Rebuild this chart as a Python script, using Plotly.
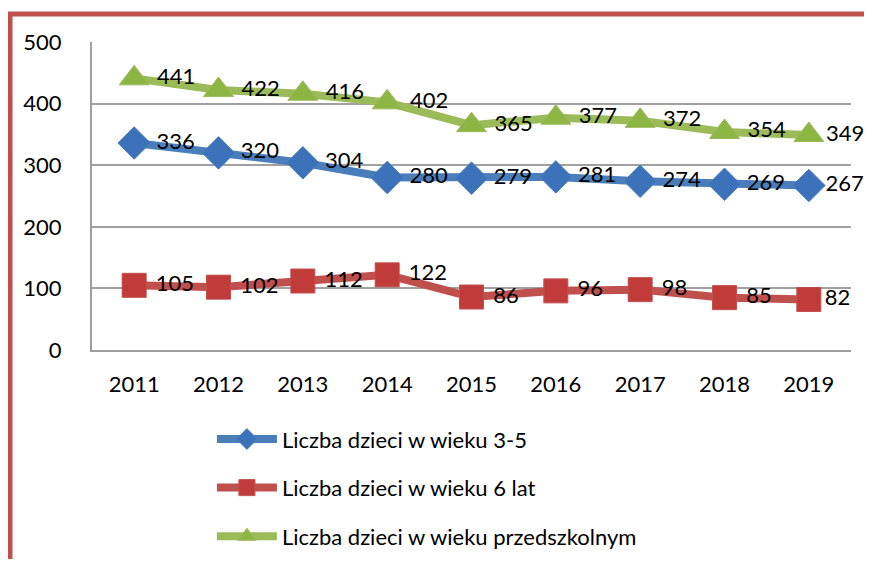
import plotly.graph_objects as go

years = ["2011", "2012", "2013", "2014", "2015", "2016", "2017", "2018", "2019"]
kids_3_5 = [336, 320, 304, 280, 279, 281, 274, 269, 267]
kids_6 = [105, 102, 112, 122, 86, 96, 98, 85, 82]
kids_pre = [441, 422, 416, 402, 365, 377, 372, 354, 349]

names = ["Liczba dzieci w wieku 3-5", "Liczba dzieci w wieku 6 lat", "Liczba dzieci w wieku przedszkolnym"]
series = [kids_3_5, kids_6, kids_pre]
line_colors = ["#4A7EBB", "#C0504D", "#9BBB59"]
marker_colors = ["#3C72BA", "#C23B3B", "#8CB544"]
symbols = ["diamond", "square", "triangle-up"]
sizes = [25, 24, 26]

FONT = "Lato"
FS = 22
fig = go.Figure()
for i in range(3):
    vals = series[i]
    labels = [(" " if k < len(vals) - 1 else "") + str(v) for k, v in enumerate(vals)]
    fig.add_trace(go.Scatter(
        x=years, y=vals, name=names[i], mode="lines+markers+text",
        text=labels, textposition="middle right",
        textfont=dict(family=FONT, size=FS, color="#000000"),
        line=dict(color=line_colors[i], width=8),
        marker=dict(symbol=symbols[i], size=sizes[i], color=marker_colors[i],
                    line=dict(width=1, color=line_colors[i])),
        cliponaxis=False, legendgroup=str(i),
    ))

# page body has an 8px margin; keep the figure inside the window
fig.update_layout(
    width=856, height=551,
    margin=dict(l=84, r=13, t=34, b=209, autoexpand=False),
    paper_bgcolor="white", plot_bgcolor="white",
    font=dict(family=FONT, size=FS, color="#000000"),
    showlegend=True,
    legend=dict(x=0.158, y=-0.2215, xanchor="left", yanchor="top", orientation="v",
                font=dict(family=FONT, size=FS, color="#000000"),
                tracegroupgap=17, itemwidth=60, bgcolor="rgba(0,0,0,0)"),
    xaxis=dict(type="category", range=[-0.5, 8.5], showgrid=False, zeroline=False,
               showline=True, linecolor="#9E9E9E", linewidth=2, ticks="", automargin=False,
               ticklabelstandoff=14, tickfont=dict(family=FONT, size=FS)),
    yaxis=dict(range=[0, 500], dtick=100, showgrid=True, gridcolor="#A0A0A0", gridwidth=2,
               zeroline=False, showline=True, linecolor="#9E9E9E", linewidth=2, ticks="",
               automargin=False, ticklabelstandoff=24, tickfont=dict(family=FONT, size=FS)),
    shapes=[dict(type="path", xref="paper", yref="paper",
                 path="M -0.108 -0.75 L -0.108 1.0909 L 1.06 1.0909",
                 line=dict(color="#C0504D", width=5))],
)

fig.write_html("out.html")
